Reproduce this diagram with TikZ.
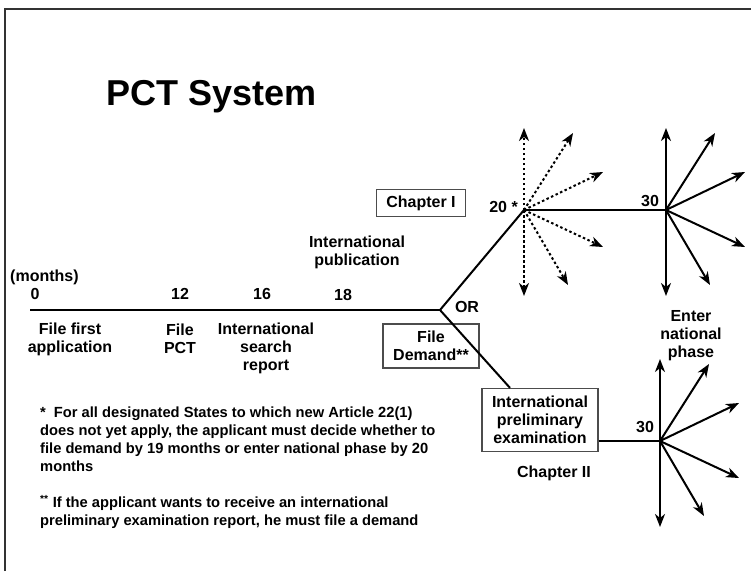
\documentclass[tikz,border=0pt]{standalone}
\usepackage{fontspec}
\setmainfont{Liberation Sans}
\usetikzlibrary{arrows.meta,calc}
\begin{document}
\begin{tikzpicture}[x=1pt,y=-1pt,
  lbl/.style={font=\fontsize{16}{18}\selectfont\bfseries, align=center, inner sep=0pt},
  ttl/.style={font=\fontsize{36}{40}\selectfont\bfseries, inner sep=0pt},
  note/.style={font=\fontsize{14.7}{18}\selectfont\bfseries, align=left, inner sep=0pt, anchor=north west},
  boxed/.style={lbl, draw=black!70, line width=1.2pt},
  tl/.style={line width=2pt},
  arr/.style={line width=2pt, -{Stealth[length=13pt,width=10pt,inset=4pt]}},
  darr/.style={arr, dash pattern=on 2.5pt off 2.5pt},
  frame/.style={line width=1.5pt, draw=black!80}
]
\useasboundingbox (0,0) rectangle (751,571);
% frame (top and left edges visible)
\draw[frame] (5,571) -- (5,9) -- (751,9);

% title
\node[ttl, anchor=west] (title) at (106,97) {PCT System};

% key points
\coordinate (t0) at (30,310);
\coordinate (j) at (440,310);
\coordinate (p20) at (524,210);
\coordinate (p30a) at (666,210);
\coordinate (p30b) at (660,441);

% boxes
\node[boxed, minimum width=89pt, minimum height=27pt] (ch1) at (421,203) {Chapter I};
\node[boxed, minimum width=96pt, minimum height=44pt] (fd) at (431,346) {File\\Demand**};
\node[boxed, minimum width=116pt, minimum height=63pt] (ipe) at (540,420) {International\\preliminary\\examination};

% timeline
\draw[tl] (t0) -- (j);
\draw[tl] (j) -- (p20);
\draw[tl] (p20) -- (p30a);
\draw[tl] (j) -- (510,0 |- ipe.north);
\draw[tl] (ipe.east |- p30b) -- (p30b);

% labels
\node[lbl, anchor=west] (months) at (10,277) {(months)};
\node[lbl] (m0) at (35,294) {0};
\node[lbl] (m12) at (180,294) {12};
\node[lbl] (m16) at (262,294) {16};
\node[lbl] (m18) at (343,295) {18};
\node[lbl] (ffa) at (70,339) {File first\\application};
\node[lbl] (fpct) at (180,339) {File\\PCT};
\node[lbl] (isr) at (266,348) {International\\search\\report};
\node[lbl] (ipub) at (357,252) {International\\publication};
\node[lbl] (or) at (467,307) {OR};
\node[lbl, anchor=east] (m20) at (518,207) {20 *};
\node[lbl] (m30a) at (650,201) {30};
\node[lbl] (m30b) at (645,427) {30};
\node[lbl] (ch2) at (554,473) {Chapter II};
\node[lbl] (enp) at (691,336) {Enter\\national\\phase};

% arrow fans
\foreach \n/\dx/\dy in {a/0/-82, b/49/-77, c/79/-38, d/79/37, e/44/75, f/0/86}{
  \coordinate (d\n) at ($(p20)+(\dx,\dy)$);
  \coordinate (s\n) at ($(p30a)+(\dx,\dy)$);
  \coordinate (q\n) at ($(p30b)+(\dx,\dy)$);
  \draw[darr] (p20) -- (d\n);
  \draw[arr] (p30a) -- (s\n);
  \draw[arr] (p30b) -- (q\n);
}

% footnotes
\node[note] (fn1) at (40,407) {*\hspace{8pt}For all designated States to which new Article 22(1)\\does not yet apply, the applicant must decide whether to\\file demand by 19 months or enter national phase by 20\\months};
\node[note] (fn2) at (40,495) {\textsuperscript{**}\ If the applicant wants to receive an international\\preliminary examination report, he must file a demand};
\end{tikzpicture}
\end{document}
